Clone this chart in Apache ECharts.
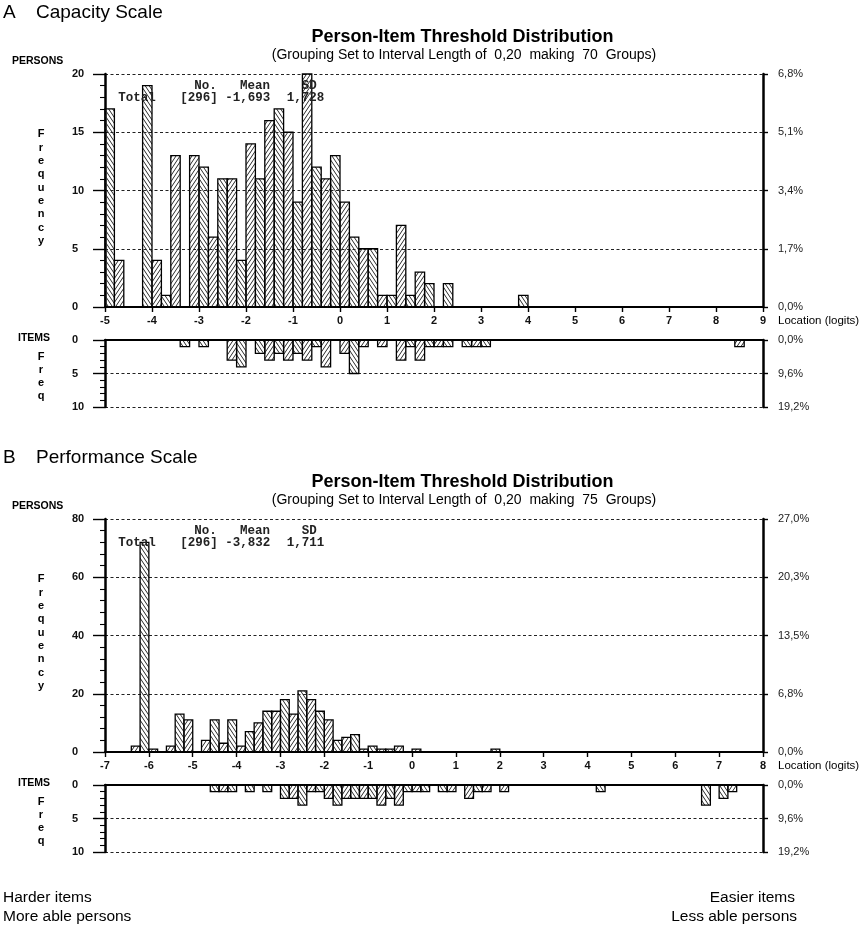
<!DOCTYPE html>
<html><head><meta charset="utf-8">
<script src="https://cdn.jsdelivr.net/npm/echarts@6/dist/echarts.min.js"></script>
<style>html,body{margin:0;padding:0;background:#fff}#c{width:865px;height:928px}</style>
</head><body><div id="c"></div>
<script>
// ---------------- data ----------------
const binWidth = 0.2;
const capacityRange = [-5, 9];
const performanceRange = [-7, 8];

// Capacity scale, persons per 0.2-logit bin starting at -5 (70 bins)
const capacityPersons = [
  17,4,0,0,19,4,1,13,0,13,
  12,6,11,11,4,14,11,16,17,15,
  9,20,12,11,13,9,6,5,5,1,
  1,7,1,3,2,0,2,0,0,0,
  0,0,0,0,1,0,0,0,0,0,
  0,0,0,0,0,0,0,0,0,0,
  0,0,0,0,0,0,0,0,0,0
];
// Capacity scale, item thresholds per bin (70 bins)
const capacityItems = [
  0,0,0,0,0,0,0,0,1,0,
  1,0,0,3,4,0,2,3,2,3,
  2,3,1,4,0,2,5,1,0,1,
  0,3,1,3,1,1,1,0,1,1,
  1,0,0,0,0,0,0,0,0,0,
  0,0,0,0,0,0,0,0,0,0,
  0,0,0,0,0,0,0,1,0,0
];
// Performance scale, persons per bin starting at -7 (75 bins)
const performancePersons = [
  0,0,0,2,72,1,0,2,13,11,
  0,4,11,3,11,2,7,10,14,14,
  18,13,21,18,14,11,4,5,6,1,
  2,1,1,2,0,1,0,0,0,0,
  0,0,0,0,1,0,0,0,0,0,
  0,0,0,0,0,0,0,0,0,0,
  0,0,0,0,0,0,0,0,0,0,
  0,0,0,0,0
];
// Performance scale, item thresholds per bin (75 bins)
const performanceItems = [
  0,0,0,0,0,0,0,0,0,0,
  0,0,1,1,1,0,1,0,1,0,
  2,2,3,1,1,2,3,2,2,2,
  2,3,2,3,1,1,1,0,1,1,
  0,2,1,1,0,1,0,0,0,0,
  0,0,0,0,0,0,1,0,0,0,
  0,0,0,0,0,0,0,0,3,0,
  2,1,0,0,0
];
const statsHeader = ['No.', 'Mean', 'SD'];
const capacityStats = ['Total', '[296]', '-1,693', '1,728'];
const performanceStats = ['Total', '[296]', '-3,832', '1,711'];
const capacityGroups = 70;
const performanceGroups = 75;

// ---------------- helpers ----------------
function makeHatch(forward) {
  const W = 8, H = 12, k = 2 / 3;
  const c = document.createElement('canvas');
  c.width = W; c.height = H;
  const g = c.getContext('2d');
  g.strokeStyle = '#2a2a2a';
  g.lineWidth = 1;
  g.beginPath();
  for (let x0 = -16; x0 <= 20; x0 += 4) {
    if (forward) { g.moveTo(x0 + H * k, 0); g.lineTo(x0, H); }
    else { g.moveTo(x0, 0); g.lineTo(x0 + H * k, H); }
  }
  g.stroke();
  return c;
}
const hatchBack = { image: makeHatch(false), repeat: 'repeat' };
const hatchFwd = { image: makeHatch(true), repeat: 'repeat' };

const SANS = '"Liberation Sans", Arial, sans-serif';
const MONO = '"Liberation Mono", "Courier New", monospace';
const sum = a => a.reduce((s, v) => s + v, 0);
const pct = total => v => (v / total * 100).toFixed(1).replace('.', ',') + '%';

const grids = [], xAxes = [], yAxes = [], series = [], graphics = [];

function text(x, y, s, font, align, extra) {
  graphics.push({ type: 'text', x: x, y: y, z: 100,
    style: Object.assign({ text: s, font: font, fill: '#000', textAlign: align || 'left', textVerticalAlign: 'middle' }, extra || {}) });
}

function barSeries(gi, range, counts) {
  series.push({
    type: 'custom', xAxisIndex: gi, yAxisIndex: gi * 2, clip: false,
    data: counts.map((v, i) => [range[0] + i * binWidth, v]),
    encode: { x: 0, y: 1 },
    renderItem: function (params, api) {
      const x0 = api.value(0), v = api.value(1);
      if (!v) return null;
      const a = api.coord([x0, v]);
      const b = api.coord([x0 + binWidth, 0]);
      return { type: 'rect',
        shape: { x: Math.min(a[0], b[0]), y: Math.min(a[1], b[1]), width: Math.abs(b[0] - a[0]), height: Math.abs(b[1] - a[1]) },
        style: { fill: params.dataIndex % 2 ? hatchFwd : hatchBack, stroke: '#000', lineWidth: 1.3 } };
    }
  });
}

function addGrid(top, height, range, isItems, maxV, interval, total) {
  const gi = grids.length;
  grids.push({ left: 105, top: top, width: 658, height: height });
  xAxes.push({
    gridIndex: gi, type: 'value', min: range[0], max: range[1], interval: 1,
    position: isItems ? 'top' : 'bottom',
    axisLine: { show: true, onZero: false, lineStyle: { color: '#000', width: 2 } },
    axisTick: { show: !isItems, length: 5, lineStyle: { color: '#000', width: 1.4 } },
    axisLabel: { show: !isItems, margin: 8, fontFamily: SANS, fontWeight: 'bold', fontSize: 11, color: '#111' },
    splitLine: { show: false }
  });
  yAxes.push({
    gridIndex: gi, type: 'value', min: 0, max: maxV, interval: interval, position: 'left', inverse: isItems,
    axisLine: { show: true, onZero: false, lineStyle: { color: '#000', width: 2.5 } },
    axisTick: { show: true, length: 12, lineStyle: { color: '#000', width: 1.4 } },
    minorTick: { show: true, splitNumber: 5, length: 5, lineStyle: { color: '#000', width: 1.1 } },
    axisLabel: { align: 'left', margin: 33, fontFamily: SANS, fontWeight: 'bold', fontSize: 11, color: '#111' },
    splitLine: { show: true, lineStyle: { type: [3, 2.5], color: '#222', width: 1.1 } }
  });
  yAxes.push({
    gridIndex: gi, type: 'value', min: 0, max: maxV, interval: interval, position: 'right', inverse: isItems,
    axisLine: { show: true, onZero: false, lineStyle: { color: '#000', width: 2.5 } },
    axisTick: { show: true, length: 5, lineStyle: { color: '#000', width: 1.4 } },
    axisLabel: { margin: 15, fontFamily: SANS, fontSize: 11, color: '#222', formatter: pct(total) },
    splitLine: { show: false }
  });
  return gi;
}

function panel(dy, letter, name, range, persons, items, pMax, pInt, groups, stats) {
  const gp = addGrid(74 + dy, 233, range, false, pMax, pInt, sum(persons));
  barSeries(gp, range, persons);
  const git = addGrid(340 + dy, 67, range, true, 10, 5, sum(items));
  barSeries(git, range, items);

  text(3, 13 + dy, letter, '19px ' + SANS);
  text(36, 13 + dy, name, '19px ' + SANS);
  text(462.5, 37 + dy, 'Person-Item Threshold Distribution', 'bold 18px ' + SANS, 'center');
  text(464, 55.5 + dy, '(Grouping Set to Interval Length of  0,20  making  ' + groups + '  Groups)', '14px ' + SANS, 'center');
  text(12, 61 + dy, 'PERSONS', 'bold 10.5px ' + SANS);
  text(18, 338.5 + dy, 'ITEMS', 'bold 10.5px ' + SANS);
  text(41, 127.8 + dy, 'Frequency'.split('').join('\n'), 'bold 11px ' + SANS, 'center',
       { textVerticalAlign: 'top', lineHeight: 13.33 });
  text(41, 350.5 + dy, 'Freq'.split('').join('\n'), 'bold 11px ' + SANS, 'center',
       { textVerticalAlign: 'top', lineHeight: 13 });
  text(778, 321 + dy, 'Location (logits)', '11.5px ' + SANS);

  const mono = 'bold 12.5px ' + MONO;
  text(194.3, 85.7 + dy, statsHeader[0], mono, 'left', { fill: '#222' });
  text(240, 85.7 + dy, statsHeader[1], mono, 'left', { fill: '#222' });
  text(301.7, 85.7 + dy, statsHeader[2], mono, 'left', { fill: '#222' });
  text(118.3, 98.3 + dy, stats[0], mono, 'left', { fill: '#222' });
  text(180.3, 98.3 + dy, stats[1], mono, 'left', { fill: '#222' });
  text(225.3, 98.3 + dy, stats[2], mono, 'left', { fill: '#222' });
  text(286.7, 98.3 + dy, stats[3], mono, 'left', { fill: '#222' });
}

panel(0, 'A', 'Capacity Scale', capacityRange, capacityPersons, capacityItems, 20, 5, capacityGroups, capacityStats);
panel(445, 'B', 'Performance Scale', performanceRange, performancePersons, performanceItems, 80, 20, performanceGroups, performanceStats);

text(3, 897.5, 'Harder items', '15.5px ' + SANS);
text(3, 917, 'More able persons', '15.5px ' + SANS);
text(795, 897.5, 'Easier items', '15.5px ' + SANS, 'right');
text(797, 917, 'Less able persons', '15.5px ' + SANS, 'right');

const chart = echarts.init(document.getElementById('c'), null, { renderer: 'canvas' });
chart.setOption({
  backgroundColor: '#fff',
  animation: false,
  grid: grids,
  xAxis: xAxes,
  yAxis: yAxes,
  series: series,
  graphic: graphics
});
</script>
</body></html>
